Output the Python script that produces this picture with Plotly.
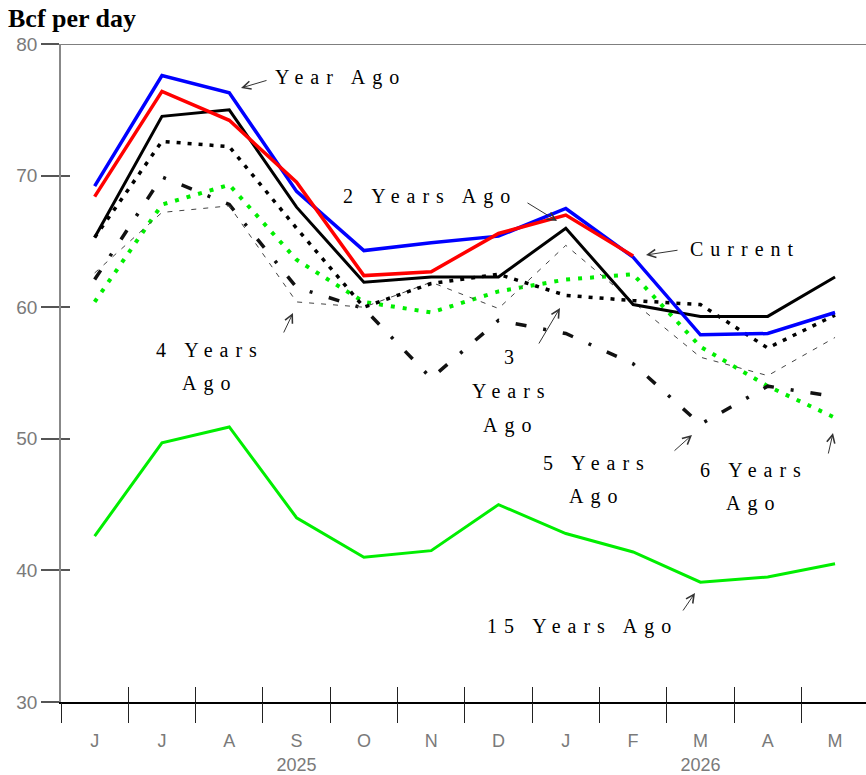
import plotly.graph_objects as go

# ---------------- data ----------------
months = ["J", "J", "A", "S<br>2025", "O", "N", "D", "J", "F", "M<br>2026", "A", "M"]
xi = list(range(len(months)))

current = [68.4, 76.4, 74.2, 69.5, 62.4, 62.7, 65.6, 67.0, 63.9, None, None, None]
year_ago = [69.2, 77.6, 76.3, 68.8, 64.3, 64.9, 65.4, 67.5, 63.8, 57.9, 58.0, 59.6]
two_years_ago = [65.3, 74.5, 75.0, 67.6, 61.9, 62.3, 62.3, 66.0, 60.2, 59.3, 59.3, 62.3]
three_years_ago = [65.3, 72.6, 72.2, 66.0, 60.0, 61.8, 62.5, 60.9, 60.5, 60.2, 56.9, 59.4]
four_years_ago = [62.6, 67.2, 67.7, 60.4, 60.0, 61.9, 59.9, 64.7, 60.4, 56.2, 54.8, 57.7]
five_years_ago = [62.1, 69.9, 67.8, 61.5, 59.9, 54.6, 59.0, 58.0, 55.7, 51.1, 54.0, 53.2]
six_years_ago = [60.4, 67.8, 69.3, 63.6, 60.4, 59.6, 61.2, 62.1, 62.5, 57.0, 54.0, 51.6]
fifteen_years_ago = [42.6, 49.7, 50.9, 44.0, 41.0, 41.5, 45.0, 42.8, 41.4, 39.1, 39.5, 40.5]

y_ticks = [30, 40, 50, 60, 70, 80]
boundaries = [i - 0.5 for i in range(12)]

# ---------------- layout geometry ----------------
W, H = 866, 775
L, R, T, B = 61, 0, 44, 73
XR = [-0.5, 11.46]
YR = [30, 80]
pw, ph = W - L - R, H - T - B


def px_x(p):
    return XR[0] + (p - L) / pw * (XR[1] - XR[0])


def px_y(p):
    return YR[1] - (p - T) / ph * (YR[1] - YR[0])


fig = go.Figure()

series = [
    ("15 Years Ago", fifteen_years_ago, dict(color="#00ee00", width=3)),
    ("6 Years Ago", six_years_ago, dict(color="#00ee00", width=4, dash="4px,8px")),
    ("5 Years Ago", five_years_ago, dict(color="#111111", width=3.5, dash="11px,17px,3px,17px")),
    ("4 Years Ago", four_years_ago, dict(color="#444444", width=1, dash="5px,7px")),
    ("3 Years Ago", three_years_ago, dict(color="#000000", width=3.5, dash="4px,7px")),
    ("2 Years Ago", two_years_ago, dict(color="#000000", width=3)),
    ("Year Ago", year_ago, dict(color="#0000ff", width=3.5)),
    ("Current", current, dict(color="#ff0000", width=3.5)),
]
for name, vals, line in series:
    fig.add_trace(go.Scatter(x=xi, y=vals, name=name, mode="lines", line=line,
                             showlegend=False, connectgaps=False))

# dummy traces for overlay axes (tick decorations)
fig.add_trace(go.Scatter(x=[None], y=[None], xaxis="x2", yaxis="y", showlegend=False, hoverinfo="skip"))
fig.add_trace(go.Scatter(x=[None], y=[None], xaxis="x3", yaxis="y", showlegend=False, hoverinfo="skip"))
fig.add_trace(go.Scatter(x=[None], y=[None], xaxis="x", yaxis="y2", showlegend=False, hoverinfo="skip"))

y_tick_font = dict(family="Liberation Sans", size=19, color="#7a7a7a")
x_tick_font = dict(family="Liberation Sans", size=18, color="#7a7a7a")
deco = dict(showgrid=False, zeroline=False, automargin=False)

fig.update_layout(
    template="none",
    width=W, height=H, autosize=False,
    margin=dict(l=L, r=R, t=T, b=B, pad=0, autoexpand=False),
    paper_bgcolor="white", plot_bgcolor="white",
    xaxis=dict(range=XR, tickmode="array", tickvals=xi, ticktext=months,
               ticks="outside", ticklen=22, tickcolor="rgba(0,0,0,0)",
               showline=True, linecolor="#000000", linewidth=1.5,
               tickfont=x_tick_font, **deco),
    xaxis2=dict(range=XR, overlaying="x", anchor="y", side="bottom",
                tickmode="array", tickvals=boundaries, ticks="outside", ticklen=20,
                tickcolor="#222222", tickwidth=1, showticklabels=False,
                showline=False, **deco),
    xaxis3=dict(range=XR, overlaying="x", anchor="y", side="bottom",
                tickmode="array", tickvals=boundaries, ticks="inside", ticklen=15,
                tickcolor="#222222", tickwidth=1, showticklabels=False,
                showline=False, **deco),
    yaxis=dict(range=YR, tickmode="array", tickvals=y_ticks,
               ticks="outside", ticklen=18, tickcolor="#555555", tickwidth=1.5,
               showline=True, linecolor="#888888", linewidth=1.5,
               tickfont=y_tick_font, **deco),
    yaxis2=dict(range=YR, overlaying="y", anchor="x", side="left",
                tickmode="array", tickvals=y_ticks, ticks="inside", ticklen=9,
                tickcolor="#555555", tickwidth=1.5, showticklabels=False,
                showline=False, **deco),
    title=dict(text="<b>Bcf per day</b>", x=8 / W, xanchor="left", xref="container",
               y=1 - 18 / H, yanchor="middle", yref="container",
               font=dict(family="Liberation Serif", size=26, color="#000000")),
    shapes=[dict(type="line", xref="paper", yref="y", x0=0, x1=1, y0=80, y1=80,
                 line=dict(color="#555555", width=1.5))],
)

ann_font = dict(family="Liberation Serif", size=20, color="#000000")


def label(text, cx, cy):
    fig.add_annotation(x=px_x(cx), y=px_y(cy), xref="x", yref="y",
                       text='<span style="letter-spacing:7px">' + text + '</span>',
                       showarrow=False, font=ann_font, xanchor="center", yanchor="middle")


def arrow(tip, tail):
    fig.add_annotation(x=px_x(tip[0]), y=px_y(tip[1]), xref="x", yref="y",
                       ax=tail[0] - tip[0], ay=tail[1] - tip[1], axref="pixel", ayref="pixel",
                       text="", showarrow=True, arrowhead=5, arrowsize=1.6,
                       arrowwidth=1, arrowcolor="#333333", standoff=0, startstandoff=0)


label("Year Ago", 340, 77)
arrow((241, 88), (268, 80))
label("2 Years Ago", 430, 196)
arrow((557, 221), (526, 202))
label("Current", 745, 249)
arrow((646, 255), (679, 250))
label("4 Years", 210, 350)
label("Ago", 209, 383)
arrow((293, 313), (283, 334))
label("3", 512, 357)
label("Years", 512, 391)
label("Ago", 510, 425)
arrow((560, 308), (538, 345))
label("5 Years", 597, 463)
label("Ago", 596, 496)
arrow((692, 435), (673, 452))
label("6 Years", 754, 470)
label("Ago", 753, 503)
arrow((833, 433), (828, 455))
label("15 Years Ago", 582, 626)
arrow((695, 593), (682, 612))

fig.write_html("out.html", config={"displayModeBar": False},
               post_script="document.body.style.margin='0px';")
